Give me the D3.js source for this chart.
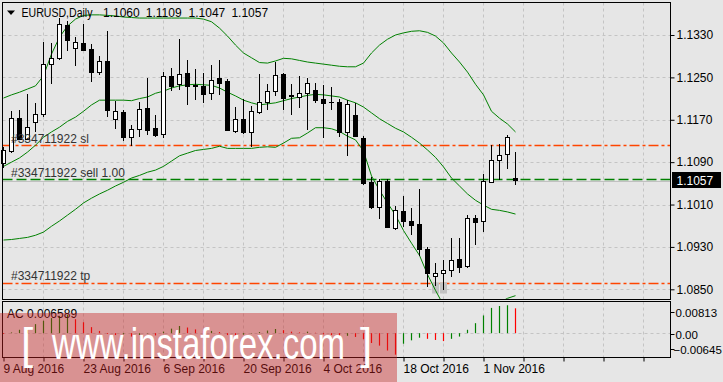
<!DOCTYPE html>
<html>
<head>
<meta charset="utf-8">
<script src="https://cdn.jsdelivr.net/npm/d3@7"></script>
<style>
  body { margin: 0; background: #e6e6e6; }
  svg { display: block; font-family: "Liberation Sans", Arial, sans-serif; }
</style>
</head>
<body>
<div id="chart"></div>
<script>
const symbolName = "EURUSD,Daily";
const dateLabels = ["9 Aug 2016", "23 Aug 2016", "6 Sep 2016", "20 Sep 2016", "4 Oct 2016", "18 Oct 2016", "1 Nov 2016"];
const dateLabelBars = [0, 10, 20, 30, 40, 50, 60];

// daily candles, one per bar index
const opens = [1.1088, 1.1111, 1.1173, 1.1133, 1.1165, 1.1180, 1.1275, 1.1286, 1.1348, 1.1305,
  1.1314, 1.1303, 1.1261, 1.1281, 1.1172, 1.1184, 1.1138, 1.1152, 1.1193, 1.1155,
  1.1143, 1.1253, 1.1237, 1.1258, 1.1236, 1.1234, 1.1220, 1.1248, 1.1243, 1.1149,
  1.1171, 1.1147, 1.1185, 1.1204, 1.1224, 1.1256, 1.1217, 1.1213, 1.1220, 1.1227,
  1.1210, 1.1203, 1.1203, 1.1147, 1.1179, 1.1135, 1.1053, 1.1006, 1.1054, 1.0966,
  1.0997, 1.0978, 1.0974, 1.0927, 1.0875, 1.0880, 1.0887, 1.0908, 1.0894, 1.0984,
  1.0979, 1.1053, 1.1095, 1.1105, 1.1060];
const highs = [1.1118, 1.1187, 1.1188, 1.1219, 1.1201, 1.1317, 1.1315, 1.1362, 1.1356, 1.1327,
  1.1351, 1.1313, 1.1291, 1.1338, 1.1205, 1.1189, 1.1161, 1.1204, 1.1248, 1.1179,
  1.1261, 1.1267, 1.1323, 1.1283, 1.1265, 1.1258, 1.1273, 1.1283, 1.1247, 1.1195,
  1.1210, 1.1196, 1.1256, 1.1237, 1.1279, 1.1259, 1.1237, 1.1253, 1.1248, 1.1240,
  1.1236, 1.1232, 1.1209, 1.1207, 1.1201, 1.1139, 1.1062, 1.1059, 1.1058, 1.1007,
  1.1026, 1.1004, 1.1039, 1.0929, 1.0899, 1.0905, 1.0946, 1.0946, 1.0991, 1.0990,
  1.1067, 1.1122, 1.1124, 1.1141, 1.1109];
const lows = [1.1079, 1.1108, 1.1132, 1.1132, 1.1147, 1.1176, 1.1237, 1.1282, 1.1300, 1.1271,
  1.1299, 1.1241, 1.1254, 1.1176, 1.1153, 1.1129, 1.1121, 1.1138, 1.1141, 1.1137,
  1.1135, 1.1224, 1.1226, 1.1197, 1.1207, 1.1202, 1.1207, 1.1217, 1.1149, 1.1145,
  1.1143, 1.1119, 1.1181, 1.1188, 1.1215, 1.1188, 1.1179, 1.1192, 1.1150, 1.1201,
  1.1136, 1.1188, 1.1138, 1.1102, 1.1137, 1.1047, 1.1001, 1.0982, 1.0967, 1.0962,
  1.0968, 1.0952, 1.0912, 1.0854, 1.0857, 1.0849, 1.0873, 1.0881, 1.0891, 1.0933,
  1.0958, 1.1050, 1.1057, 1.1078, 1.1047];
const closes = [1.1113, 1.1173, 1.1133, 1.1157, 1.1180, 1.1275, 1.1286, 1.1351, 1.1320, 1.1316,
  1.1301, 1.1260, 1.1280, 1.1189, 1.1186, 1.1138, 1.1153, 1.1191, 1.1150, 1.1142,
  1.1253, 1.1234, 1.1257, 1.1234, 1.1233, 1.1218, 1.1246, 1.1240, 1.1150, 1.1171,
  1.1147, 1.1186, 1.1203, 1.1224, 1.1254, 1.1212, 1.1214, 1.1220, 1.1239, 1.1207,
  1.1202, 1.1203, 1.1147, 1.1200, 1.1139, 1.1051, 1.1006, 1.1054, 1.0968, 1.0999,
  1.0978, 1.0972, 1.0927, 1.0880, 1.0881, 1.0887, 1.0906, 1.0893, 1.0984, 1.0977,
  1.1054, 1.1095, 1.1103, 1.1138, 1.1057];

// bollinger bands
const bbUpper = [1.1211, 1.1217, 1.1222, 1.1228, 1.1234, 1.1253, 1.1294, 1.1326, 1.1347, 1.1360,
  1.1367, 1.1368, 1.1368, 1.1367, 1.1366, 1.1364, 1.1363, 1.1362, 1.1362, 1.1362,
  1.1362, 1.1362, 1.1362, 1.1362, 1.1362, 1.1360, 1.1355, 1.1343, 1.1328, 1.1311,
  1.1296, 1.1287, 1.1278, 1.1277, 1.1281, 1.1286, 1.1285, 1.1282, 1.1279, 1.1277,
  1.1275, 1.1273, 1.1271, 1.1270, 1.1270, 1.1277, 1.1296, 1.1311, 1.1322, 1.1330,
  1.1334, 1.1337, 1.1338, 1.1335, 1.1328, 1.1315, 1.1296, 1.1279, 1.1260, 1.1237,
  1.1217, 1.1186, 1.1173, 1.1162, 1.1147];
const bbMiddle = [1.1082, 1.1090, 1.1098, 1.1109, 1.1122, 1.1137, 1.1147, 1.1156, 1.1167, 1.1175,
  1.1186, 1.1198, 1.1207, 1.1207, 1.1207, 1.1207, 1.1206, 1.1210, 1.1213, 1.1220,
  1.1224, 1.1230, 1.1234, 1.1236, 1.1237, 1.1236, 1.1235, 1.1230, 1.1222, 1.1215,
  1.1207, 1.1202, 1.1198, 1.1200, 1.1202, 1.1206, 1.1210, 1.1213, 1.1216, 1.1218,
  1.1217, 1.1215, 1.1213, 1.1207, 1.1202, 1.1194, 1.1183, 1.1172, 1.1163, 1.1154,
  1.1147, 1.1137, 1.1126, 1.1113, 1.1099, 1.1081, 1.1060, 1.1045, 1.1030, 1.1018,
  1.1009, 1.1001, 1.0999, 1.0996, 1.0992];
const bbLower = [1.0943, 1.0944, 1.0946, 1.0948, 1.0952, 1.0958, 1.0969, 1.0979, 1.0990, 1.1001,
  1.1013, 1.1022, 1.1030, 1.1037, 1.1045, 1.1052, 1.1060, 1.1065, 1.1071, 1.1075,
  1.1082, 1.1092, 1.1102, 1.1107, 1.1112, 1.1114, 1.1116, 1.1120, 1.1116, 1.1116,
  1.1116, 1.1116, 1.1118, 1.1119, 1.1118, 1.1126, 1.1135, 1.1136, 1.1145, 1.1155,
  1.1155, 1.1153, 1.1148, 1.1139, 1.1132, 1.1111, 1.1064, 1.1037, 1.1013, 1.0990,
  1.0961, 1.0937, 1.0914, 1.0878, 1.0848, 1.0820, 1.0801, 1.0788, 1.0782, 1.0788,
  1.0799, 1.0814, 1.0825, 1.0833, 1.0838];

// accelerator oscillator
const acValues = [-0.0002, 0.0002, 0.0009, 0.0016, 0.0024, 0.0033, 0.0040, 0.0046, 0.0049, 0.0037,
  0.0029, 0.0016, 0.0006, -0.0002, -0.0005, -0.0003, -0.0009, -0.0005, -0.0001, -0.0006,
  0.0004, 0.0012, 0.0019, 0.0015, 0.0010, 0.0005, 0.0006, 0.0003, -0.0005, -0.0007,
  -0.0004, -0.0001, 0.0003, 0.0007, 0.0011, 0.0008, 0.0004, 0.0002, 0.0004, 0.0001,
  -0.0003, -0.0005, -0.0009, -0.0007, -0.0010, -0.0016, -0.0026, -0.0033, -0.0046, -0.0057,
  -0.0028, -0.0019, -0.0012, -0.0015, -0.0018, -0.0021, -0.0015, -0.0009, 0.0009, 0.00265,
  0.0047, 0.0067, 0.0072, 0.0074, 0.006589];
const acBefore = 0.0000;
const acTicks = [0.00813, 0, -0.00645];

const priceTicks = [1.0850, 1.0930, 1.1010, 1.1090, 1.1170, 1.1250, 1.1330];
const orderLabel = "#334711922";
const slPrice = 1.1122, tpPrice = 1.0862, entryPrice = 1.1058, bidPrice = 1.1057;
const markerBars = [54, 55];
const markerTop = 1.0863, markerBottom = 1.0842;

var width = 723, height = 382;
var left = 2.5, right = 670.5, mainTop = 2.5, mainBottom = 299.5, acTop = 301.5, acBottom = 357.5;
var green = "#008000", red = "#ff0000", orange = "#ff4500", gridColor = "#c4c4c4";

var svg = d3.select("#chart").append("svg")
  .attr("width", width)
  .attr("height", height);

svg.append("rect").attr("width", width).attr("height", height).attr("fill", "#e6e6e6");

var x = d3.scaleLinear().domain([0, 83]).range([3.5, 3.5 + 8 * 83]);
var y = d3.scaleLinear().domain([1.0850, 1.1330]).range([289.3, 35]);
var yAc = d3.scaleLinear().domain([-0.00645, 0.00813]).range([357.5, 302.5]);
var snap = v => Math.round(v) + 0.5;

svg.append("clipPath").attr("id", "mainClip")
  .append("rect").attr("x", left).attr("y", mainTop).attr("width", right - left).attr("height", mainBottom - mainTop);

// grid
var grid = svg.append("g")
  .attr("stroke", gridColor)
  .attr("stroke-dasharray", "3,3");
priceTicks.forEach(p => {
  grid.append("line").attr("x1", left).attr("x2", right).attr("y1", snap(y(p))).attr("y2", snap(y(p)));
});
grid.append("line").attr("x1", left).attr("x2", right).attr("y1", snap(yAc(0))).attr("y2", snap(yAc(0)));
d3.range(5, 81, 5).forEach(i => {
  grid.append("line").attr("x1", x(i)).attr("x2", x(i)).attr("y1", mainTop).attr("y2", mainBottom);
  grid.append("line").attr("x1", x(i)).attr("x2", x(i)).attr("y1", acTop).attr("y2", acBottom);
});

// order lines
var orders = svg.append("g").attr("clip-path", "url(#mainClip)");
orders.append("line").attr("x1", left).attr("x2", right)
  .attr("y1", snap(y(bidPrice)) + 1).attr("y2", snap(y(bidPrice)) + 1)
  .attr("stroke", "#c0c0c0");
[[slPrice, orange], [tpPrice, orange], [entryPrice, green]].forEach(d => {
  orders.append("line").attr("x1", left).attr("x2", right)
    .attr("y1", snap(y(d[0]))).attr("y2", snap(y(d[0])))
    .attr("stroke", d[1])
    .attr("stroke-width", 1.3)
    .attr("stroke-dasharray", d[1] === green ? "10,4" : "10,3,3,3");
});
markerBars.forEach(i => {
  orders.append("rect")
    .attr("x", x(i) - 3.5).attr("width", 7)
    .attr("y", y(markerTop)).attr("height", y(markerBottom) - y(markerTop))
    .attr("fill", "#c2c2c2");
});

// bollinger bands
var bandLine = d3.line().x((d, i) => x(i)).y(d => y(d));
var bands = svg.append("g").attr("clip-path", "url(#mainClip)");
[bbUpper, bbMiddle, bbLower].forEach(band => {
  bands.append("path").attr("d", bandLine(band))
    .attr("fill", "none").attr("stroke", green).attr("stroke-width", 1);
});

// candles
var candles = svg.append("g");
opens.forEach((o, i) => {
  let c = closes[i];
  let cx = x(i);
  candles.append("line")
    .attr("x1", cx).attr("x2", cx)
    .attr("y1", Math.round(y(highs[i]))).attr("y2", Math.round(y(lows[i])))
    .attr("stroke", "#000");
  let top = snap(y(Math.max(o, c)));
  let bottom = snap(y(Math.min(o, c)));
  candles.append("rect")
    .attr("x", cx - 2).attr("width", 4)
    .attr("y", top).attr("height", Math.max(bottom - top, 0.01))
    .attr("fill", c >= o ? "#fff" : "#000")
    .attr("stroke", "#000");
});

// accelerator histogram
var ac = svg.append("g");
acValues.forEach((v, i) => {
  let prev = i === 0 ? acBefore : acValues[i - 1];
  ac.append("line")
    .attr("x1", x(i)).attr("x2", x(i))
    .attr("y1", yAc(0)).attr("y2", yAc(v))
    .attr("stroke", v > prev ? green : red)
    .attr("stroke-width", 1.2);
});

// frames
svg.append("rect").attr("x", left).attr("y", mainTop).attr("width", right - left).attr("height", mainBottom - mainTop)
  .attr("fill", "none").attr("stroke", "#000");
svg.append("rect").attr("x", left).attr("y", acTop).attr("width", right - left).attr("height", acBottom - acTop)
  .attr("fill", "none").attr("stroke", "#000");

// price axis
var yAxis = svg.append("g")
  .attr("transform", "translate(" + right + ",0)")
  .call(d3.axisRight(y).tickValues(priceTicks).tickFormat(d3.format(".4f")).tickSize(4).tickPadding(2));
yAxis.select(".domain").remove();
yAxis.selectAll("text").attr("font-size", 12).attr("font-family", "Liberation Sans, Arial").attr("fill", "#000");

// accelerator axis
var acAxis = svg.append("g").attr("font-size", 11.5);
acTicks.forEach((v, k) => {
  let ty = [312.5, 334.5, 349.5][k];
  acAxis.append("line").attr("x1", right).attr("x2", right + 4).attr("y1", ty).attr("y2", ty).attr("stroke", "#000");
  acAxis.append("text").attr("x", v < 0 ? right + 3 : right + 5).attr("y", ty + 4.5)
    .text(v === 0 ? "0.00" : d3.format(".5f")(v));
});

// time axis
var labelAt = {};
dateLabelBars.forEach((b, k) => labelAt[b] = dateLabels[k]);
var xAxis = svg.append("g")
  .attr("transform", "translate(0," + acBottom + ")")
  .call(d3.axisBottom(x).tickValues(d3.range(0, 81, 5)).tickSize(4).tickPadding(3)
    .tickFormat(i => labelAt[i] || ""));
xAxis.select(".domain").remove();
xAxis.selectAll("text")
  .attr("text-anchor", "start")
  .attr("x", -0.5)
  .attr("font-size", 12).attr("font-family", "Liberation Sans, Arial").attr("fill", "#000");

// current price box
svg.append("rect").attr("x", 672).attr("y", snap(y(bidPrice)) - 8.5).attr("width", 49).attr("height", 16).attr("fill", "#000");
svg.append("text").attr("x", 676.5).attr("y", snap(y(bidPrice)) + 4.5)
  .attr("font-size", 12).attr("fill", "#fff").text(d3.format(".4f")(bidPrice));

// header
svg.append("path").attr("d", "M7,10.5 L15,10.5 L11,15 Z").attr("fill", "#000");
var header = svg.append("text").attr("y", 16.5).attr("font-size", 12).attr("fill", "#000");
header.append("tspan").attr("x", 21.5).attr("textLength", 71).attr("lengthAdjust", "spacingAndGlyphs").text(symbolName);
[opens[64], highs[64], lows[64], closes[64]].forEach((v, k) => {
  header.append("tspan").attr("x", 103 + k * 42.8).text(d3.format(".4f")(v));
});

// order labels
var labels = svg.append("g").attr("font-size", 12).attr("fill", "#333");
labels.append("text").attr("x", 11).attr("y", 143).text(orderLabel + " sl");
labels.append("text").attr("x", 11).attr("y", 177).text(orderLabel + " sell 1.00");
labels.append("text").attr("x", 11).attr("y", 280).text(orderLabel + " tp");

svg.append("text").attr("x", 7).attr("y", 318).attr("font-size", 12).attr("fill", "#000")
  .text("AC " + d3.format(".6f")(acValues[acValues.length - 1]));

// watermark
svg.append("rect").attr("x", 0).attr("y", 313).attr("width", 397).attr("height", 69)
  .attr("fill", "#c81e1e").attr("fill-opacity", 0.42);
var mark = svg.append("g").attr("fill", "#fff").attr("font-size", 44);
mark.append("text").attr("x", 21).attr("y", 359).attr("font-weight", 300).text("[");
mark.append("text").attr("x", 52).attr("y", 359).attr("textLength", 293).attr("lengthAdjust", "spacingAndGlyphs")
  .text("www.instaforex.com");
mark.append("text").attr("x", 360).attr("y", 359).text("]");
</script>
</body>
</html>
